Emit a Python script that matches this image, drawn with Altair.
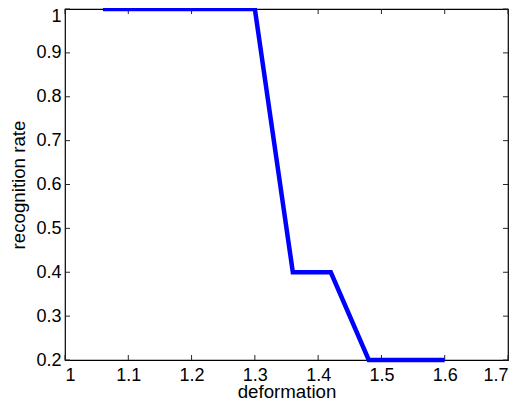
import altair as alt
import pandas as pd

# data
deformation = [1.06, 1.30, 1.36, 1.42, 1.48, 1.60]
recognition_rate = [1.0, 1.0, 0.4, 0.4, 0.2, 0.2]
x_ticks = [1.0, 1.1, 1.2, 1.3, 1.4, 1.5, 1.6, 1.7]
y_ticks = [0.2, 0.3, 0.4, 0.5, 0.6, 0.7, 0.8, 0.9, 1.0]

W, H = 443, 351
FONT = "Liberation Sans"
TICK = 5

df = pd.DataFrame({"deformation": deformation, "rate": recognition_rate})
xt = pd.DataFrame({"v": x_ticks})
yt = pd.DataFrame({"v": y_ticks})

xscale = alt.Scale(domain=[1.0, 1.7], nice=False, zero=False)
yscale = alt.Scale(domain=[0.2, 1.0], nice=False, zero=False)

line = alt.Chart(df).mark_line(color="#0000ff", strokeWidth=4.5, clip=False).encode(
    x=alt.X("deformation:Q", scale=xscale,
            axis=alt.Axis(values=x_ticks, format="~g", title="deformation",
                          ticks=False, domain=False, grid=False,
                          labelPadding=6, titleY=37, titleBaseline="alphabetic")),
    y=alt.Y("rate:Q", scale=yscale,
            axis=alt.Axis(values=y_ticks, format="~g", title="recognition rate",
                          ticks=False, domain=False, grid=False,
                          labelPadding=4, titlePadding=7,
                          labelOffset={"condition": {"test": "datum.value >= 1", "value": 7},
                                       "value": 0})),
)

tick_color = "#262626"
xb = alt.Chart(xt).mark_rule(color=tick_color, strokeWidth=1).encode(
    x=alt.X("v:Q", scale=xscale), y=alt.value(H), y2=alt.value(H - TICK))
xtop = alt.Chart(xt).mark_rule(color=tick_color, strokeWidth=1).encode(
    x=alt.X("v:Q", scale=xscale), y=alt.value(0), y2=alt.value(TICK))
yl = alt.Chart(yt).mark_rule(color=tick_color, strokeWidth=1).encode(
    y=alt.Y("v:Q", scale=yscale), x=alt.value(0), x2=alt.value(TICK))
yr = alt.Chart(yt).mark_rule(color=tick_color, strokeWidth=1).encode(
    y=alt.Y("v:Q", scale=yscale), x=alt.value(W), x2=alt.value(W - TICK))

chart = alt.layer(xb, xtop, yl, yr, line).properties(
    width=W, height=H,
    autosize=alt.AutoSizeParams(type="none"),
    padding={"left": 57, "top": 1, "right": 10, "bottom": 39},
).configure_view(
    stroke="#000000", strokeWidth=1.2
).configure_axis(
    labelFont=FONT, titleFont=FONT, labelFontSize=18, titleFontSize=18.7,
    labelColor="#000000", titleColor="#000000", titleFontWeight="normal",
)

chart.save("out.html", embed_options={"renderer": "svg", "actions": False})
